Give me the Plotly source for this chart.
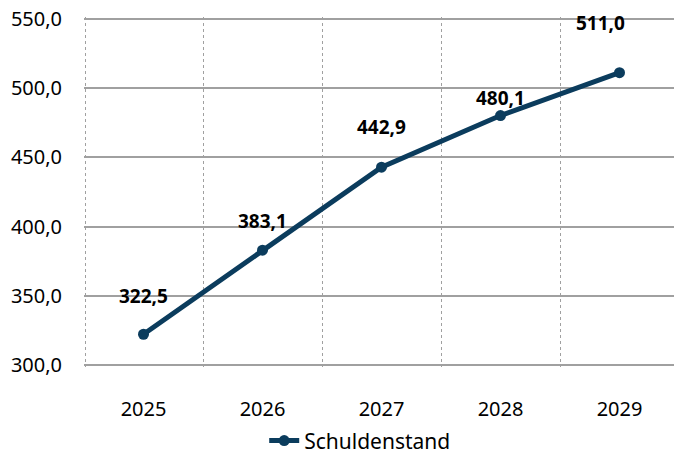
import plotly.graph_objects as go

years = ["2025", "2026", "2027", "2028", "2029"]
schuldenstand = [322.5, 383.1, 442.9, 480.1, 511.0]
y_ticks = [300, 350, 400, 450, 500, 550]


def fmt_de(v):
    return f"{v:.1f}".replace(".", ",")


# label offsets (px) as hand-placed in the original
label_shift = [(0, 38), (0, 29), (0, 40), (0, 18), (-19, 50)]

positions = list(range(len(years)))
line_color = "#0b3c5d"
grid_color = "#a0a0a0"

fig = go.Figure()
fig.add_trace(
    go.Scatter(
        x=positions,
        y=schuldenstand,
        mode="lines+markers",
        name="Schuldenstand",
        line={"color": line_color, "width": 5},
        marker={"color": line_color, "size": 11},
    )
)

for i, v in enumerate(schuldenstand):
    dx, dy = label_shift[i]
    fig.add_annotation(
        x=positions[i],
        y=v,
        text=f"<b>{fmt_de(v)}</b>",
        showarrow=False,
        xshift=dx,
        yshift=dy,
        font={"size": 19, "color": "#000000", "family": "Noto Sans"},
    )

fig.update_layout(
    width=674,
    height=456,
    paper_bgcolor="white",
    plot_bgcolor="white",
    font={"family": "Noto Sans", "size": 20, "color": "#000000"},
    margin={"l": 84, "r": 0, "t": 17, "b": 89},
    showlegend=True,
    legend={
        "orientation": "h",
        "xref": "container",
        "yref": "container",
        "x": 0.392,
        "xanchor": "left",
        "y": 0.033,
        "yanchor": "middle",
        "font": {"size": 21},
    },
    xaxis={
        "range": [-0.5, 4.458],
        "tickvals": positions,
        "ticktext": years,
        "showgrid": False,
        "zeroline": False,
        "showline": False,
        "automargin": False,
        "ticklabelstandoff": 28,
        "minor": {
            "tickvals": [-0.49, 0.5, 1.5, 2.5, 3.5],
            "showgrid": True,
            "gridcolor": grid_color,
            "griddash": "dot",
            "gridwidth": 1,
        },
    },
    yaxis={
        # padded a little so the 300 and 550 grid lines are not clipped at the edges
        "range": [298.9, 551.1],
        "tickvals": y_ticks,
        "ticktext": [fmt_de(t) for t in y_ticks],
        "showgrid": True,
        "gridcolor": grid_color,
        "gridwidth": 2,
        "zeroline": False,
        "showline": False,
        "automargin": False,
        "ticklabelstandoff": 21,
    },
)

# drop the default 8px body margin so the figure sits at the window's corner
fig.write_html(
    "out.html",
    config={"displayModeBar": False},
    post_script="document.body.style.margin = '0';",
)
